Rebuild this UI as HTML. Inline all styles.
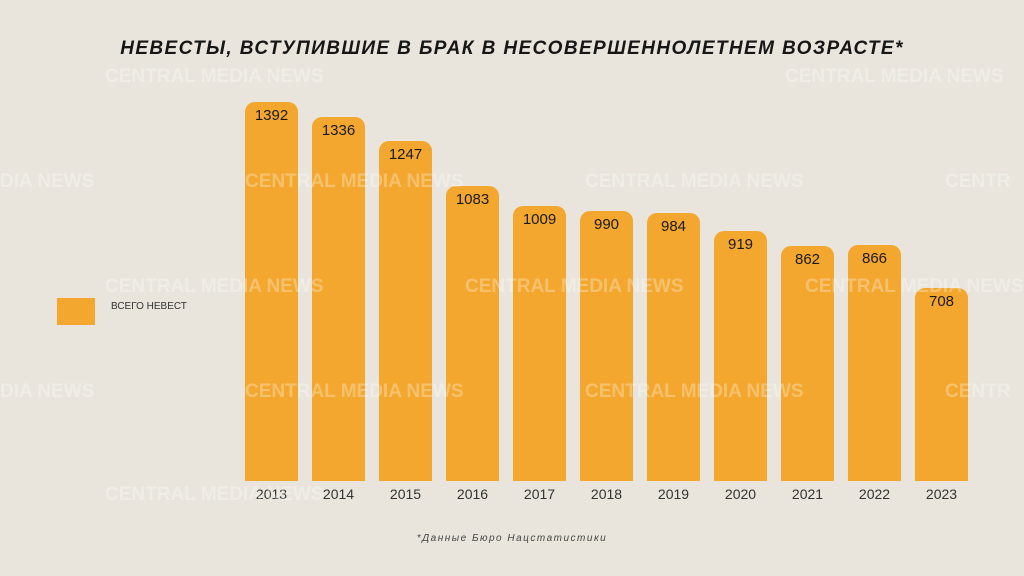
<!DOCTYPE html>
<html><head><meta charset="utf-8"><style>
body{margin:0;width:1024px;height:576px;overflow:hidden;background:#e9e5dc;font-family:"Liberation Sans",sans-serif;position:relative}
.t{position:absolute;top:38px;left:0;width:1024px;text-align:center;font-weight:bold;font-style:italic;font-size:19px;letter-spacing:1.4px;color:#161616}
.b{position:absolute;width:53px;background:#f3a72f;border-radius:10px 10px 0 0;bottom:95px}
.v{position:absolute;width:53px;text-align:center;font-size:15px;color:#1a1a1a}
.y{position:absolute;top:486px;width:67px;text-align:center;font-size:14px;color:#333}
.w{position:absolute;font-weight:bold;font-size:19px;color:rgba(255,255,255,0.3);white-space:nowrap}
</style></head><body>
<div class="t">НЕВЕСТЫ, ВСТУПИВШИЕ В БРАК В НЕСОВЕРШЕННОЛЕТНЕМ ВОЗРАСТЕ*</div>
<div style="position:absolute;left:57px;top:298px;width:38px;height:27px;background:#f3a72f"></div>
<div style="position:absolute;left:111px;top:301px;font-size:10px;color:#333">ВСЕГО НЕВЕСТ</div>
<div id="c"></div>
<div class="w" style="left:105px;top:66px">CENTRAL MEDIA NEWS</div>
<div class="w" style="left:785px;top:66px">CENTRAL MEDIA NEWS</div>
<div class="w" style="left:0px;top:171px">DIA NEWS</div>
<div class="w" style="left:245px;top:171px">CENTRAL MEDIA NEWS</div>
<div class="w" style="left:585px;top:171px">CENTRAL MEDIA NEWS</div>
<div class="w" style="left:945px;top:171px">CENTR</div>
<div class="w" style="left:105px;top:276px">CENTRAL MEDIA NEWS</div>
<div class="w" style="left:465px;top:276px">CENTRAL MEDIA NEWS</div>
<div class="w" style="left:805px;top:276px">CENTRAL MEDIA NEWS</div>
<div class="w" style="left:0px;top:381px">DIA NEWS</div>
<div class="w" style="left:245px;top:381px">CENTRAL MEDIA NEWS</div>
<div class="w" style="left:585px;top:381px">CENTRAL MEDIA NEWS</div>
<div class="w" style="left:945px;top:381px">CENTR</div>
<div class="w" style="left:105px;top:484px">CENTRAL MEDIA NEWS</div>
<div style="position:absolute;top:533px;left:0;width:1024px;text-align:center;font-style:italic;font-size:10px;letter-spacing:1.5px;color:#444">*Данные Бюро Нацстатистики</div>
<script>
var d=[1392,1336,1247,1083,1009,990,984,919,862,866,708],h='';
d.forEach(function(v,i){var x=245+i*67,H=Math.round(v*0.2723),top=481-H;
h+='<div class="b" style="left:'+x+'px;height:'+H+'px"></div><div class="v" style="left:'+x+'px;top:'+(top+5)+'px">'+v+'</div><div class="y" style="left:'+(x-7)+'px">'+(2013+i)+'</div>';});
document.getElementById('c').innerHTML=h;
</script>
</body></html>
